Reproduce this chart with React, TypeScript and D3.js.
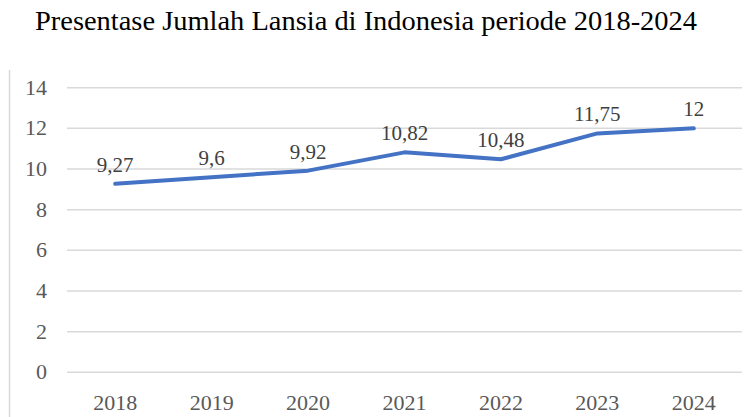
import React from 'react';
import * as d3 from 'd3';

const years = ['2018', '2019', '2020', '2021', '2022', '2023', '2024'];
const values = [9.27, 9.6, 9.92, 10.82, 10.48, 11.75, 12];
const yTicks = [0, 2, 4, 6, 8, 10, 12, 14];

const width = 756;
const height = 417;
const font = '"Liberation Serif", "Times New Roman", serif';

export default function App() {
    const x = d3.scaleBand().domain(years).range([67, 742]);
    const y = d3.scaleLinear().domain([0, 14]).range([372.3, 87.7]);

    const line = d3
        .line<number>()
        .x((d, i) => (x(years[i]) as number) + x.bandwidth() / 2)
        .y((d) => y(d));

    const fmt = (v: number) => String(v).replace('.', ',');

    return (
        <svg
            width={width}
            height={height}
            style={{ position: 'absolute', left: 0, top: 0, background: '#fff' }}>
            <text
                x={35}
                y={30}
                textLength={662}
                lengthAdjust="spacingAndGlyphs"
                fontFamily={font}
                fontSize={27}
                fill="#000">
                Presentase Jumlah Lansia di Indonesia periode 2018-2024
            </text>
            <line x1={9.5} x2={9.5} y1={70} y2={417} stroke="#d9d9d9" strokeWidth={1.5} />
            {yTicks.map((t) => (
                <g key={t}>
                    <line
                        x1={67}
                        x2={742}
                        y1={y(t)}
                        y2={y(t)}
                        stroke="#d9d9d9"
                        strokeWidth={1.5} />
                    <text
                        x={47}
                        y={y(t) + 7}
                        textAnchor="end"
                        fontFamily={font}
                        fontSize={22}
                        fill="#595959">
                        {t}
                    </text>
                </g>
            ))}
            {years.map((yr) => (
                <text
                    key={yr}
                    x={(x(yr) as number) + x.bandwidth() / 2}
                    y={410}
                    textAnchor="middle"
                    fontFamily={font}
                    fontSize={22}
                    fill="#595959">
                    {yr}
                </text>
            ))}
            <path
                d={line(values) || ''}
                fill="none"
                stroke="#4472C4"
                strokeWidth={4}
                strokeLinecap="round"
                strokeLinejoin="round" />
            {values.map((v, i) => (
                <text
                    key={i}
                    x={(x(years[i]) as number) + x.bandwidth() / 2}
                    y={y(v) - 12}
                    textAnchor="middle"
                    fontFamily={font}
                    fontSize={21}
                    fill="#404040">
                    {fmt(v)}
                </text>
            ))}
        </svg>
    );
}
